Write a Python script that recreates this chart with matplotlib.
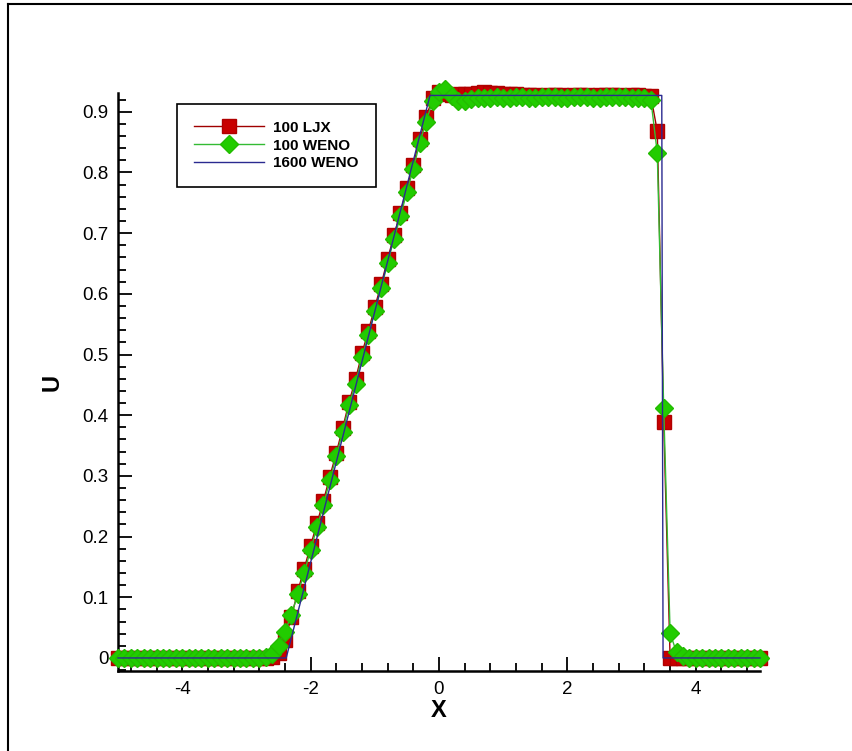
#importing libraries
import numpy as np
import matplotlib
matplotlib.use('Agg')
import matplotlib.pyplot as plt
from matplotlib.lines import Line2D
from matplotlib.ticker import MultipleLocator, FormatStrFormatter

plt.rcParams['font.family'] = ['Liberation Sans', 'DejaVu Sans']
plt.rcParams['axes.unicode_minus'] = False

#grid of the 100-cell runs (nodes from -5 to 5)
x100 = np.linspace(-5, 5, 101)

#100 LJX (red squares)
u_ljx = ([0.0] * 24 +
         [0.001, 0.008, 0.030, 0.067, 0.110, 0.147, 0.185, 0.222, 0.259, 0.299,
          0.338, 0.379, 0.422, 0.459, 0.502, 0.539, 0.578, 0.616, 0.657, 0.697,
          0.734, 0.774, 0.813, 0.855, 0.891, 0.923] +
         [0.932, 0.929, 0.927, 0.929, 0.930] +
         [0.930, 0.931, 0.932, 0.931, 0.931, 0.930, 0.930, 0.929, 0.928,
          0.927, 0.927, 0.926, 0.927, 0.927, 0.927, 0.926, 0.927, 0.927, 0.927,
          0.926, 0.927, 0.927, 0.927, 0.927, 0.926, 0.927, 0.927, 0.926, 0.926] +
         [0.868, 0.389, 0.0] +
         [0.0] * 14)

#100 WENO (green diamonds)
u_weno = ([0.0] * 23 +
          [0.002, 0.006, 0.019, 0.043, 0.071, 0.105, 0.140, 0.178, 0.216, 0.252,
           0.293, 0.332, 0.373, 0.417, 0.452, 0.496, 0.532, 0.572, 0.609, 0.651,
           0.691, 0.728, 0.768, 0.806, 0.849, 0.884, 0.918] +
          [0.933, 0.937, 0.926, 0.917, 0.918, 0.921] +
          [0.922, 0.923, 0.923, 0.924, 0.923, 0.923, 0.924, 0.924, 0.923, 0.923,
           0.924, 0.924, 0.924, 0.923, 0.923, 0.924, 0.924, 0.924, 0.923, 0.923,
           0.924, 0.924, 0.924, 0.924, 0.923, 0.923, 0.922, 0.920] +
          [0.832, 0.412, 0.041, 0.009, 0.003] +
          [0.0] * 12)

#1600 WENO reference (thin blue line), corner points
x1600 = [-5.0, -2.38, -0.14, 3.47, 3.49, 5.0]
u1600 = [0.0, 0.0, 0.927, 0.927, 0.0, 0.0]

fig = plt.figure(figsize=(8.52, 7.51), dpi=100)
ax = fig.add_axes([118/852, 80/751, 642/852, 578/751])

ax.plot(x100, u_ljx, color='#a00000', lw=1.0, marker='s', ms=9.5,
        mfc='#c80000', mec='#b00000', label='100 LJX', zorder=2, clip_on=False)
ax.plot(x100, u_weno, color='#33bb33', lw=1.0, marker='D', ms=9.5,
        mfc='#22cc00', mec='#22bb00', label='100 WENO', zorder=3, clip_on=False)
ax.plot(x1600, u1600, color='#2a2a90', lw=1.0, label='1600 WENO', zorder=4,
        clip_on=False)

ax.set_xlim(-5, 5)
ax.set_ylim(-0.0215, 0.931)

ax.xaxis.set_major_locator(MultipleLocator(2))
ax.xaxis.set_minor_locator(MultipleLocator(0.4))
ax.yaxis.set_major_locator(MultipleLocator(0.1))
ax.yaxis.set_minor_locator(MultipleLocator(0.02))
ax.yaxis.set_major_formatter(FormatStrFormatter('%g'))
ax.xaxis.set_major_formatter(FormatStrFormatter('%g'))

ax.tick_params(which='both', direction='in', width=1.3, labelsize=13.5,
               top=False, right=False)
ax.tick_params(which='major', length=10, pad=7)
ax.tick_params(which='minor', length=5.5)

for s in ['top', 'right']:
    ax.spines[s].set_visible(False)
for s in ['left', 'bottom']:
    ax.spines[s].set_linewidth(1.8)

ax.set_xlabel('X', fontsize=17, fontweight='bold', labelpad=1)
ax.set_ylabel('U', fontsize=17, fontweight='bold', labelpad=13)

leg = ax.legend(loc='upper left', bbox_to_anchor=(0.092, 0.981),
                borderaxespad=0, numpoints=1, handlelength=4.6,
                handletextpad=0.6, labelspacing=0.25, borderpad=1.1,
                fancybox=False, framealpha=1,
                prop={'size': 11, 'weight': 'bold'})
leg.get_frame().set_edgecolor('black')
leg.get_frame().set_linewidth(1.2)

#outer frame (left and top edges)
fig.add_artist(Line2D([8/852, 8/852], [0, 1 - 4/751], color='black', lw=1.5))
fig.add_artist(Line2D([8/852, 1], [1 - 4/751, 1 - 4/751], color='black', lw=1.5))

fig.savefig('out.png', dpi=100)
